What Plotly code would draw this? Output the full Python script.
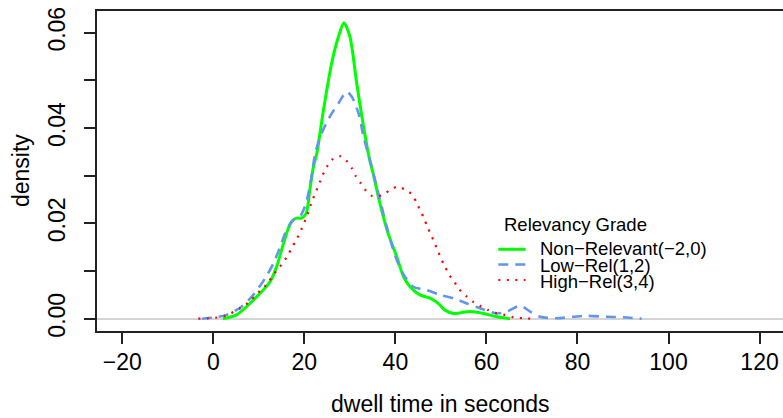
import plotly.graph_objects as go

# ---------------- data ----------------
nonrel_x = [2.1, 5.1, 8.8, 12.5, 13.9, 15.0, 16.1, 17.2, 18.3, 19.4, 20.4, 21.2, 22.0, 22.7,
            24.2, 26.0, 27.5, 28.7, 30.0, 31.5, 33.0, 34.3, 35.1, 36.6, 38.4, 40.3, 41.8,
            43.2, 45.4, 47.6, 49.4, 50.9, 52.7, 56.4, 59.3, 62.3, 65.2]
nonrel_y = [0.0, 0.0008, 0.0039, 0.0078, 0.0109, 0.0144, 0.0179, 0.0204, 0.0211, 0.0211,
            0.0221, 0.0270, 0.0319, 0.0345, 0.0438, 0.0536, 0.0592, 0.0621, 0.0592, 0.0494,
            0.0403, 0.0335, 0.0305, 0.0242, 0.0179, 0.0130, 0.0088, 0.0067, 0.0050, 0.0043,
            0.0032, 0.0018, 0.0011, 0.0015, 0.0011, 0.0004, 0.0]

lowrel_x = [-2.5, -1.5, 0.5, 2.9, 6.2, 8.8, 11.4, 13.2, 14.7, 16.1, 17.6, 19.0, 20.1, 20.9,
            21.7, 22.4, 23.8, 25.6, 27.5, 29.3, 30.4, 31.9, 33.0, 34.4, 35.9, 38.1, 40.3,
            42.1, 43.9, 46.9, 49.8, 52.7, 55.7, 58.6, 62.3, 64.5, 67.4, 69.6, 71.8, 75.4,
            79.1, 82.0, 86.4, 90.1, 94.1]
lowrel_y = [0.0, 0.0001, 0.0003, 0.0008, 0.0025, 0.0050, 0.0085, 0.0116, 0.0151, 0.0186,
            0.0207, 0.0214, 0.0235, 0.0263, 0.0305, 0.0347, 0.0389, 0.0424, 0.0452, 0.0476,
            0.0466, 0.0431, 0.0382, 0.0333, 0.0277, 0.0193, 0.0123, 0.0088, 0.0067, 0.0060,
            0.0050, 0.0043, 0.0032, 0.0022, 0.0011, 0.0015, 0.0027, 0.0015, 0.0004, 0.0001,
            0.0004, 0.0006, 0.0004, 0.0003, 0.0]

highrel_x = [-3.3, 0.4, 2.6, 5.9, 7.7, 10.3, 11.7, 13.9, 15.2, 16.3, 17.2, 18.2, 19.0, 20.5,
             21.8, 22.6, 23.3, 24.0, 24.9, 26.0, 27.7, 29.1, 30.4, 31.3, 32.4, 33.5, 35.0,
             37.0, 38.7, 40.5, 42.1, 43.6, 44.7, 45.4, 46.3, 47.0, 47.8, 48.6, 49.3, 50.0,
             50.9, 51.8, 52.9, 54.0, 55.5, 57.0, 58.6, 60.4, 62.3, 64.1, 65.9, 68.0, 70.0]
highrel_y = [0.0, 0.0002, 0.0006, 0.0022, 0.0034, 0.0059, 0.0072, 0.0101, 0.0116, 0.0132,
             0.0148, 0.0165, 0.0180, 0.0214, 0.0249, 0.0268, 0.0284, 0.0301, 0.0318, 0.0333,
             0.0341, 0.0333, 0.0316, 0.0299, 0.0284, 0.0269, 0.0257, 0.0259, 0.0269, 0.0277,
             0.0271, 0.0261, 0.0243, 0.0228, 0.0211, 0.0193, 0.0177, 0.0159, 0.0143, 0.0127,
             0.0109, 0.0092, 0.0078, 0.0062, 0.0048, 0.0036, 0.0027, 0.0018, 0.0011, 0.0008,
             0.0003, 0.0001, 0.0]

series_names = ["Non\u2212Relevant(\u22122,0)", "Low\u2212Rel(1,2)", "High\u2212Rel(3,4)"]
legend_title = "Relevancy Grade"

x_tickvals = [-20, 0, 20, 40, 60, 80, 100, 120]
x_ticktext = ["\u221220", "0", "20", "40", "60", "80", "100", "120"]
y_tickvals = [0.00, 0.01, 0.02, 0.03, 0.04, 0.05, 0.06]
y_ticktext = ["0.00", "", "0.02", "", "0.04", "", "0.06"]

x_title = "dwell time in seconds"
y_title = "density"

# ---------------- styling ----------------
FONT = "Liberation Sans, Arial, Helvetica, sans-serif"
W, H = 783, 418
ML, MR, MT, MB = 97, 0, 11, 87
PW, PH = W - ML - MR, H - MT - MB

def px(xp):
    return (xp - ML) / PW

def py(yp):
    return (H - MB - yp) / PH

styles = [
    dict(color="#00FF00", width=3, dash="solid"),
    dict(color="#6495ED", width=2.6, dash="10px,7px"),
    dict(color="#FF0000", width=2.2, dash="2px,6.5px"),
]

fig = go.Figure()
for (xs, ys), name, st in zip([(nonrel_x, nonrel_y), (lowrel_x, lowrel_y), (highrel_x, highrel_y)],
                              series_names, styles):
    fig.add_trace(go.Scatter(x=xs, y=ys, mode="lines", name=name,
                             line=dict(color=st["color"], width=st["width"], dash=st["dash"],
                                       shape="spline", smoothing=0.8),
                             showlegend=False))

fig.update_layout(
    width=W, height=H,
    margin=dict(l=ML, r=MR, t=MT, b=MB, pad=0),
    paper_bgcolor="white", plot_bgcolor="white",
    font=dict(family=FONT, size=23, color="black"),
    showlegend=False,
    xaxis=dict(range=[-25.55, 125.15], tickvals=x_tickvals, ticktext=x_ticktext,
               showgrid=False, zeroline=False, showline=True, mirror=True,
               linecolor="#222", linewidth=1.8, ticks="outside", ticklen=11,
               tickwidth=1.8, tickcolor="#222", tickfont=dict(size=23),
               ticklabelstandoff=-2),
    yaxis=dict(range=[-0.00258, 0.06455], tickvals=y_tickvals, ticktext=y_ticktext,
               showgrid=False, zeroline=True, zerolinecolor="#d4d4d4", zerolinewidth=2,
               showline=True, mirror=False, linecolor="#222", linewidth=1.8,
               ticks="outside", ticklen=11, tickwidth=1.8, tickcolor="#222",
               tickangle=-90, tickfont=dict(size=23), ticklabelstandoff=10),
)

annotations = [
    dict(text=x_title, xref="paper", yref="paper", x=0.5, y=0, xanchor="center",
         yanchor="middle", yshift=-72.8, showarrow=False, font=dict(size=23)),
    dict(text=y_title, xref="paper", yref="paper", x=0, y=0.5, xanchor="center",
         yanchor="middle", xshift=21 - ML, textangle=-90, showarrow=False,
         font=dict(size=23)),
    dict(text=legend_title, xref="paper", yref="paper", x=px(502.3), y=py(224.5),
         xanchor="left", yanchor="middle", showarrow=False, font=dict(size=18.5)),
]
row_y = [248.8, 265.3, 281.2]
line_y = [249.3, 264.5, 280.0]
shapes = []
for name, st, ry, ly in zip(series_names, styles, row_y, line_y):
    annotations.append(dict(text=name, xref="paper", yref="paper", x=px(538.3), y=py(ry),
                            xanchor="left", yanchor="middle", showarrow=False,
                            font=dict(size=18.5)))
    shapes.append(dict(type="line", xref="paper", yref="paper", x0=px(498.3), x1=px(525.5),
                       y0=py(ly), y1=py(ly),
                       line=dict(color=st["color"], width=st["width"], dash=st["dash"])))

fig.update_layout(annotations=annotations, shapes=shapes)
fig.write_html("out.html")
